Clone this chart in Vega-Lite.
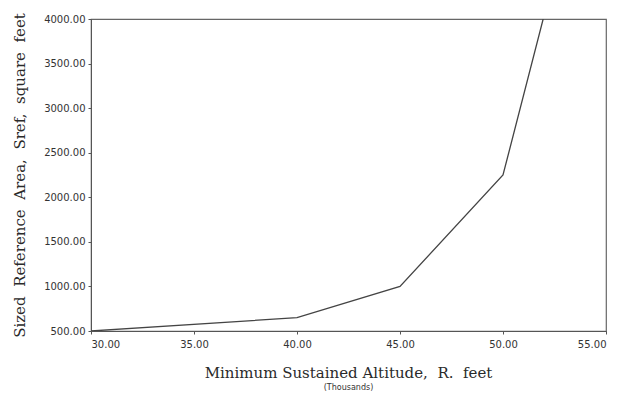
{
  "$schema": "https://vega.github.io/schema/vega-lite/v6.json",
  "width": 515,
  "height": 312,
  "autosize": "none",
  "padding": {"left": 91, "top": 19, "right": 15, "bottom": 70},
  "background": "white",
  "config": {
    "view": {"stroke": "#666", "strokeWidth": 1.2},
    "axis": {"grid": false, "domainColor": "#555", "tickColor": "#555", "labelColor": "#333", "titleColor": "#2a2a2a"}
  },
  "title": {
    "text": "Minimum Sustained Altitude,\u00a0 R.\u00a0 feet",
    "subtitle": "(Thousands)",
    "orient": "bottom",
    "anchor": "middle",
    "font": "DejaVu Serif",
    "fontSize": 15,
    "fontWeight": "normal",
    "color": "#2a2a2a",
    "subtitleFont": "DejaVu Sans",
    "subtitleFontSize": 8,
    "subtitleColor": "#333",
    "offset": 17,
    "subtitlePadding": 3
  },
  "data": {
    "values": [
      {"alt": 30, "sref": 500},
      {"alt": 40, "sref": 650},
      {"alt": 45, "sref": 1000},
      {"alt": 50, "sref": 2250},
      {"alt": 51.95, "sref": 4000}
    ]
  },
  "mark": {"type": "line", "color": "#444", "strokeWidth": 1.3, "clip": true},
  "encoding": {
    "x": {
      "field": "alt",
      "type": "quantitative",
      "scale": {"domain": [30, 55], "nice": false},
      "axis": {"values": [30, 35, 40, 45, 50, 55], "format": ".2f", "title": null, "labelFont": "DejaVu Sans", "labelFontSize": 10, "tickSize": 3, "labelPadding": 5}
    },
    "y": {
      "field": "sref",
      "type": "quantitative",
      "scale": {"domain": [500, 4000], "nice": false, "zero": false},
      "axis": {"values": [500, 1000, 1500, 2000, 2500, 3000, 3500, 4000], "format": ".2f", "title": "Sized\u00a0 Reference\u00a0 Area,\u00a0 Sref,\u00a0 square\u00a0 feet", "titleFont": "DejaVu Serif", "titleFontSize": 15, "titleFontWeight": "normal", "titlePadding": 16, "labelFont": "DejaVu Sans", "labelFontSize": 10, "tickSize": 3, "labelPadding": 3}
    }
  }
}
